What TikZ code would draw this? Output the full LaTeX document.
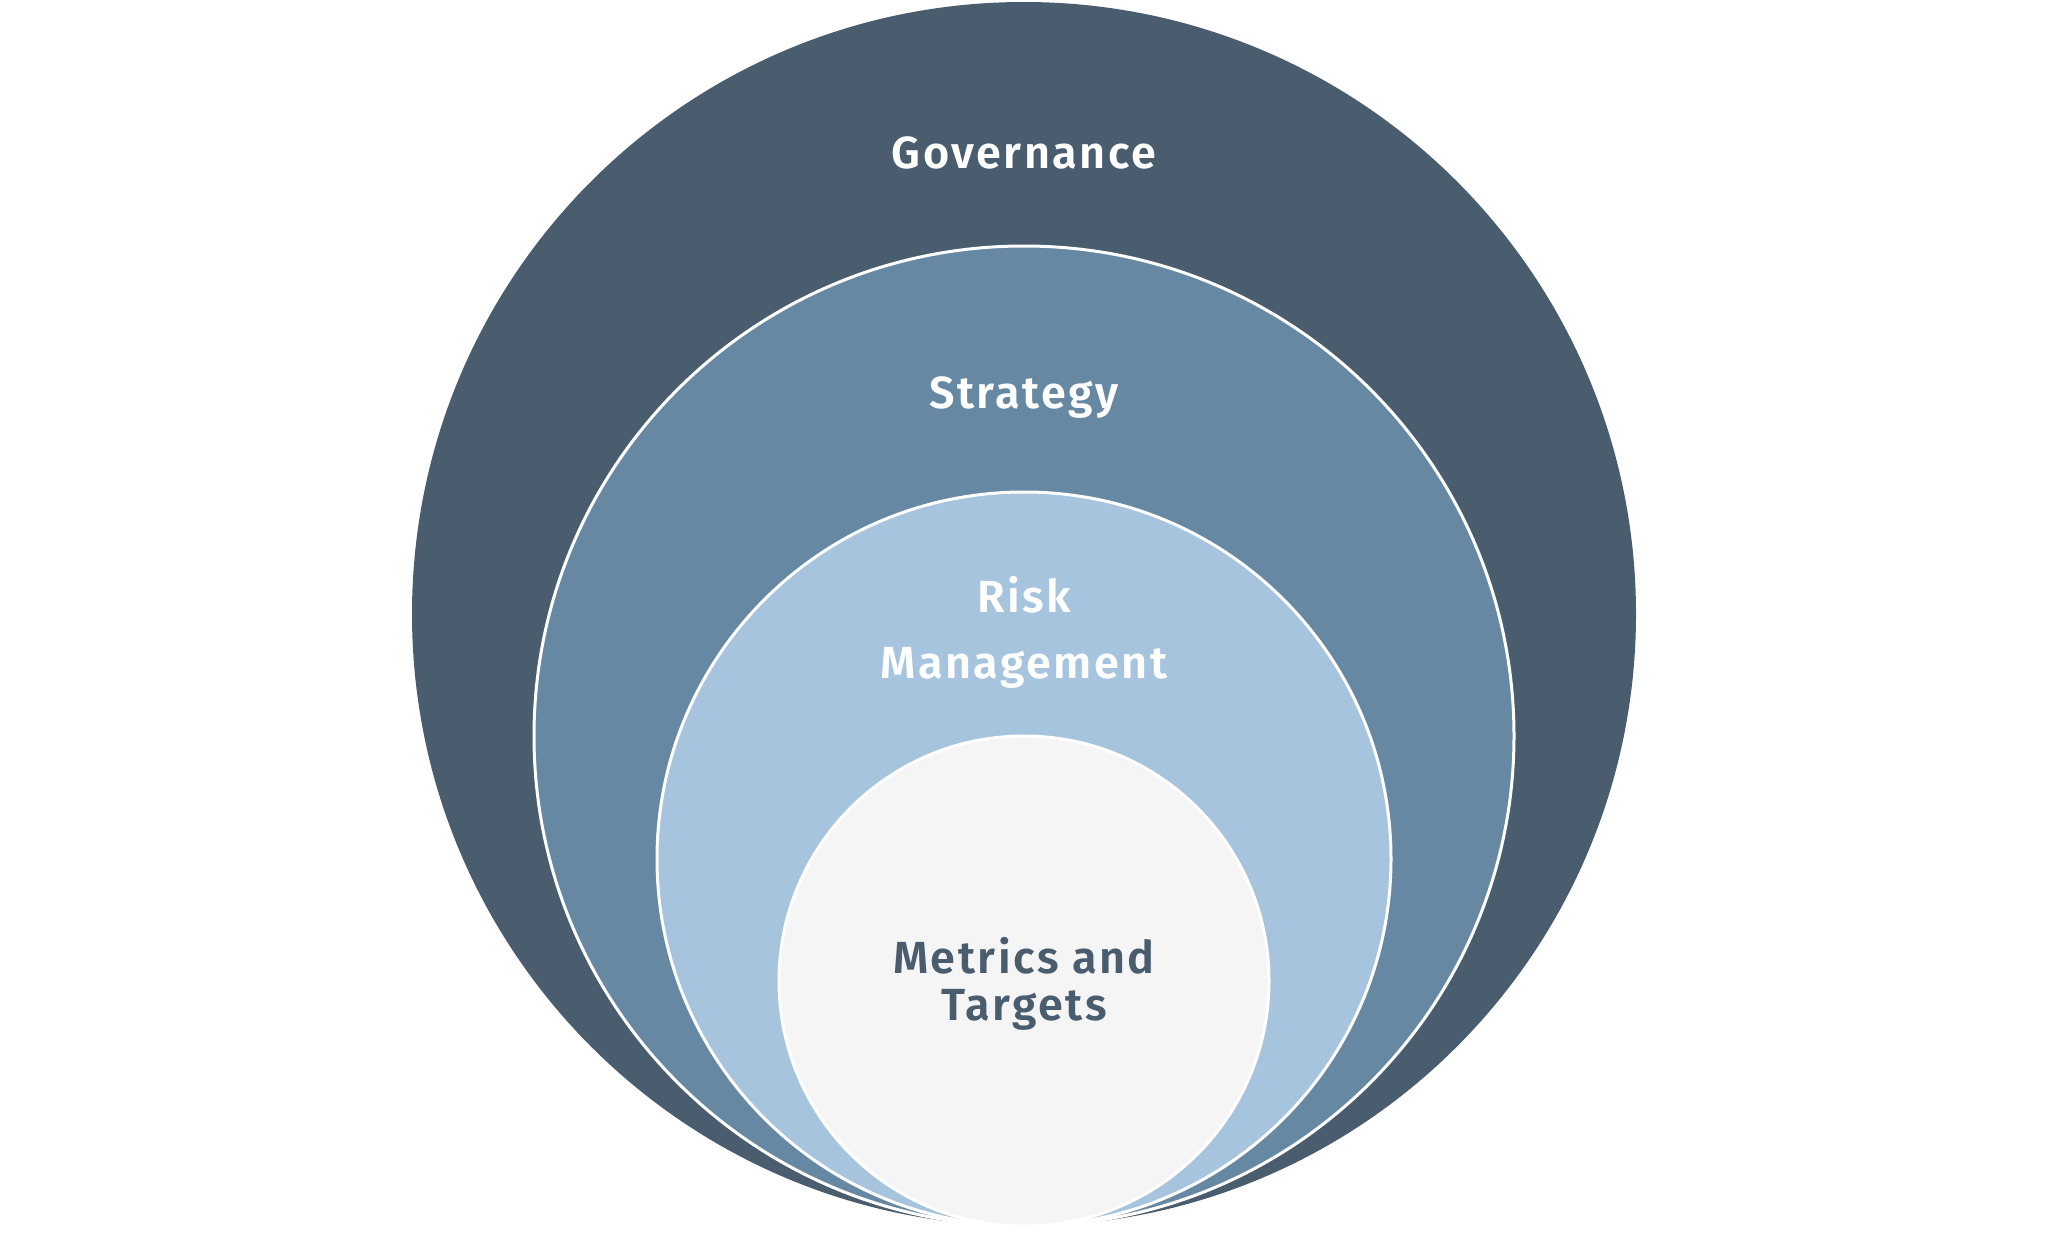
\documentclass[tikz,border=0pt]{standalone}
\usepackage{fontspec}
\newfontfamily\labelfont{Fira Sans SemiBold}[LetterSpace=5.5]
\definecolor{govc}{HTML}{4A5D6F}
\definecolor{strc}{HTML}{6688A3}
\definecolor{riskc}{HTML}{A6C4DE}
\definecolor{metc}{HTML}{F5F5F5}
\tikzset{
  disk/.style={circle, inner sep=0pt, outer sep=0pt},
  ring/.style={disk, draw=white, line width=3pt},
  lbl/.style={font=\labelfont\fontsize{45}{48}\selectfont, text=white, anchor=base, inner sep=0pt},
  dlbl/.style={lbl, text=govc}
}
\begin{document}
\begin{tikzpicture}[x=1pt,y=-1pt]
\useasboundingbox (0,0) rectangle (2048,1232);
\fill[white] (0,0) rectangle (2048,1232);
\node[disk, fill=govc, minimum size=1224pt] (gov) at (1024,614) {};
\node[ring, fill=strc, minimum size=980pt] (str) at (1024,736) {};
\node[ring, fill=riskc, minimum size=734pt] (risk) at (1024,859) {};
\node[ring, fill=metc, minimum size=490pt] (met) at (1024,981) {};
\node[lbl] (govt) at (1024,168) {Governance};
\node[lbl] (strt) at (1024,408) {Strategy};
\node[lbl] (riskt1) at (1024,612) {Risk};
\node[lbl] (riskt2) at (1024,678) {Management};
\node[dlbl] (mett1) at (1024,973) {Metrics and};
\node[dlbl] (mett2) at (1024,1020) {Targets};
\end{tikzpicture}
\end{document}
